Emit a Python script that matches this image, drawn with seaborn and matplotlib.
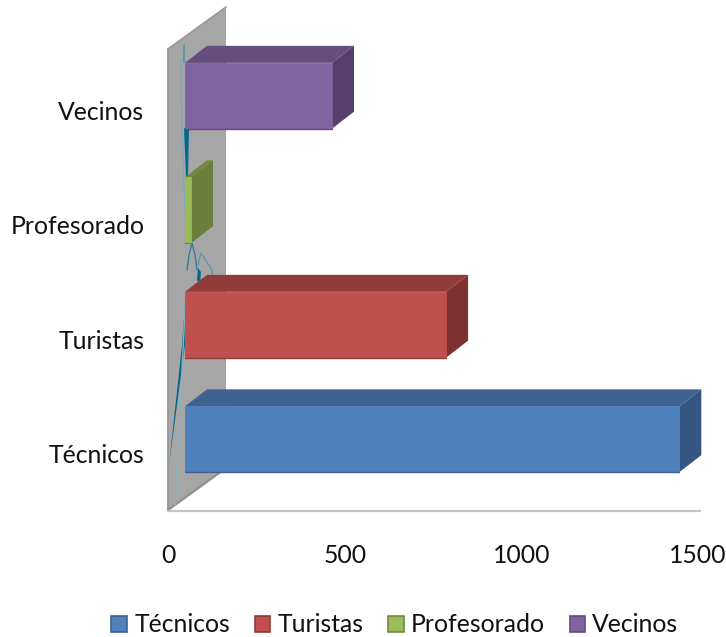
import matplotlib
matplotlib.use('Agg')
import matplotlib.pyplot as plt
from matplotlib.patches import Polygon
from matplotlib.transforms import Affine2D, IdentityTransform
import pandas as pd
import seaborn as sns

# data
categories = ['Vecinos', 'Profesorado', 'Turistas', 'Técnicos']
values = [416, 17, 739, 1399]
legend_order = ['Técnicos', 'Turistas', 'Profesorado', 'Vecinos']
x_ticks = [0, 500, 1000, 1500]

FRONT = {'Técnicos': '#4F81BD', 'Turistas': '#C0504D', 'Profesorado': '#9BBB59', 'Vecinos': '#8064A2'}
TOP = {'Técnicos': '#3E6291', 'Turistas': '#8F3C3A', 'Profesorado': '#76883F', 'Vecinos': '#634E7E'}
SIDE = {'Técnicos': '#345680', 'Turistas': '#7D3231', 'Profesorado': '#6B7E3B', 'Vecinos': '#553F6B'}

W, H = 726, 637
FS = 17.8
sns.set_style('white')
plt.rcParams['font.family'] = ['Lato', 'DejaVu Sans']
fig = plt.figure(figsize=(W / 100, H / 100), dpi=100)
ax = fig.add_axes([168 / W, 1 - 511 / H, 530 / W, 458 / H])
ax.patch.set_alpha(0)

df = pd.DataFrame({'grupo': categories, 'n': values})
sns.barplot(data=df, y='grupo', x='n', hue='grupo', hue_order=legend_order, order=categories,
            palette=FRONT, dodge=False, width=0.575, saturation=1, legend=True, ax=ax, zorder=4)
ax.set_xlim(0, 1500)
ax.set_ylim(3.5, -0.5)
ax.set_xticks(x_ticks)
ax.set_xlabel('')
ax.set_ylabel('')
ax.tick_params(axis='x', length=0, pad=24, labelsize=FS, labelcolor='#111111')
ax.tick_params(axis='y', length=0, pad=17, labelsize=FS, labelcolor='#111111')
sns.despine(ax=ax, left=True, bottom=True)

# pixel coords, y going down, for the fake 3D frame
px = Affine2D().scale(1, -1).translate(0, H)


def frame_poly(pts, color, z=1, **kw):
    ax.add_patch(Polygon(pts, closed=True, facecolor=color, edgecolor='none',
                         transform=px, clip_on=False, zorder=z, **kw))


def frame_line(xs, ys, color, lw=1.0, z=2):
    ax.plot(xs, ys, color=color, lw=lw, transform=px, clip_on=False, zorder=z, scalex=False, scaley=False)


# wall + floor lines
frame_poly([(168, 49), (226, 7), (226, 468), (168, 510)], '#A6A6A6')
frame_line([168, 226], [49, 7], '#989898', 1.2)
frame_line([168, 168], [49, 510], '#999999', 1.4)
frame_line([168, 226], [510, 468], '#8F8F8F', 1.6)
frame_line([168, 700], [510.5, 510.5], '#C4C4C4', 1.6)

# teal streaks on the wall
frame_poly([(169, 465), (182, 345), (186, 290), (185, 345)], '#05678A', z=3)
frame_poly([(184, 128), (189, 130), (188, 178), (186, 178)], '#05678A', z=3)
frame_poly([(198, 268), (201, 272), (200, 285), (197, 280)], '#05678A', z=3)
frame_line([181, 182, 185], [60, 130, 210], '#7FA9B8', 1.0, 3)
frame_line([184, 184], [45, 62], '#5F97AB', 1.5, 3)
frame_line([175, 181, 186], [505, 390, 290], '#8DB0BC', 1.0, 3)
frame_line([187, 189, 192, 195, 197], [270, 255, 243, 255, 270], '#2F7F9B', 1.0, 3)
frame_line([198, 201, 212, 222], [265, 253, 270, 358], '#5F97AB', 1.0, 3)

# bars sit on a plane pushed in from the axis, depth faces built from each bar
plane = ax.transData + Affine2D().translate(17, 14.5)
dx, dy = 22, 17
for cont, name in zip(ax.containers, legend_order):
    for bar in cont:
        if bar.get_width() != bar.get_width() or bar.get_width() == 0:
            continue
        x0, x1 = bar.get_x(), bar.get_x() + bar.get_width()
        y0, y1 = bar.get_y(), bar.get_y() + bar.get_height()
        (ax0, ay0), (ax1, ay1) = plane.transform([(x0, y0), (x1, y1)])
        ylo, yhi = min(ay0, ay1), max(ay0, ay1)
        bar.set_transform(plane)
        bar.set_clip_on(False)
        bar.set_edgecolor(FRONT[name])
        bar.set_linewidth(0.6)
        ax.add_patch(Polygon([(ax0, yhi), (ax1, yhi), (ax1 + dx, yhi + dy), (ax0 + dx, yhi + dy)],
                             facecolor=TOP[name], edgecolor='none', transform=IdentityTransform(),
                             clip_on=False, zorder=3.8))
        ax.add_patch(Polygon([(ax1, ylo), (ax1, yhi), (ax1 + dx, yhi + dy), (ax1 + dx, ylo + dy)],
                             facecolor=SIDE[name], edgecolor='none', transform=IdentityTransform(),
                             clip_on=False, zorder=3.9))
        # darker line along the bottom of the front face
        ax.plot([ax0, ax1], [ylo, ylo], color=TOP[name], lw=1.0, transform=IdentityTransform(),
                clip_on=False, zorder=4.1, scalex=False, scaley=False)

sns.move_legend(ax, 'center', bbox_to_anchor=(395 / W, 1 - 625 / H), bbox_transform=fig.transFigure,
                ncol=4, frameon=False, title=None, fontsize=FS, handlelength=0.62, handleheight=0.62,
                handletextpad=0.3, columnspacing=1.0, labelcolor='#111111')
for h, name in zip(ax.get_legend().get_patches(), legend_order):
    h.set_edgecolor(TOP[name])
    h.set_linewidth(1.2)

fig.savefig('out.png', dpi=100)
